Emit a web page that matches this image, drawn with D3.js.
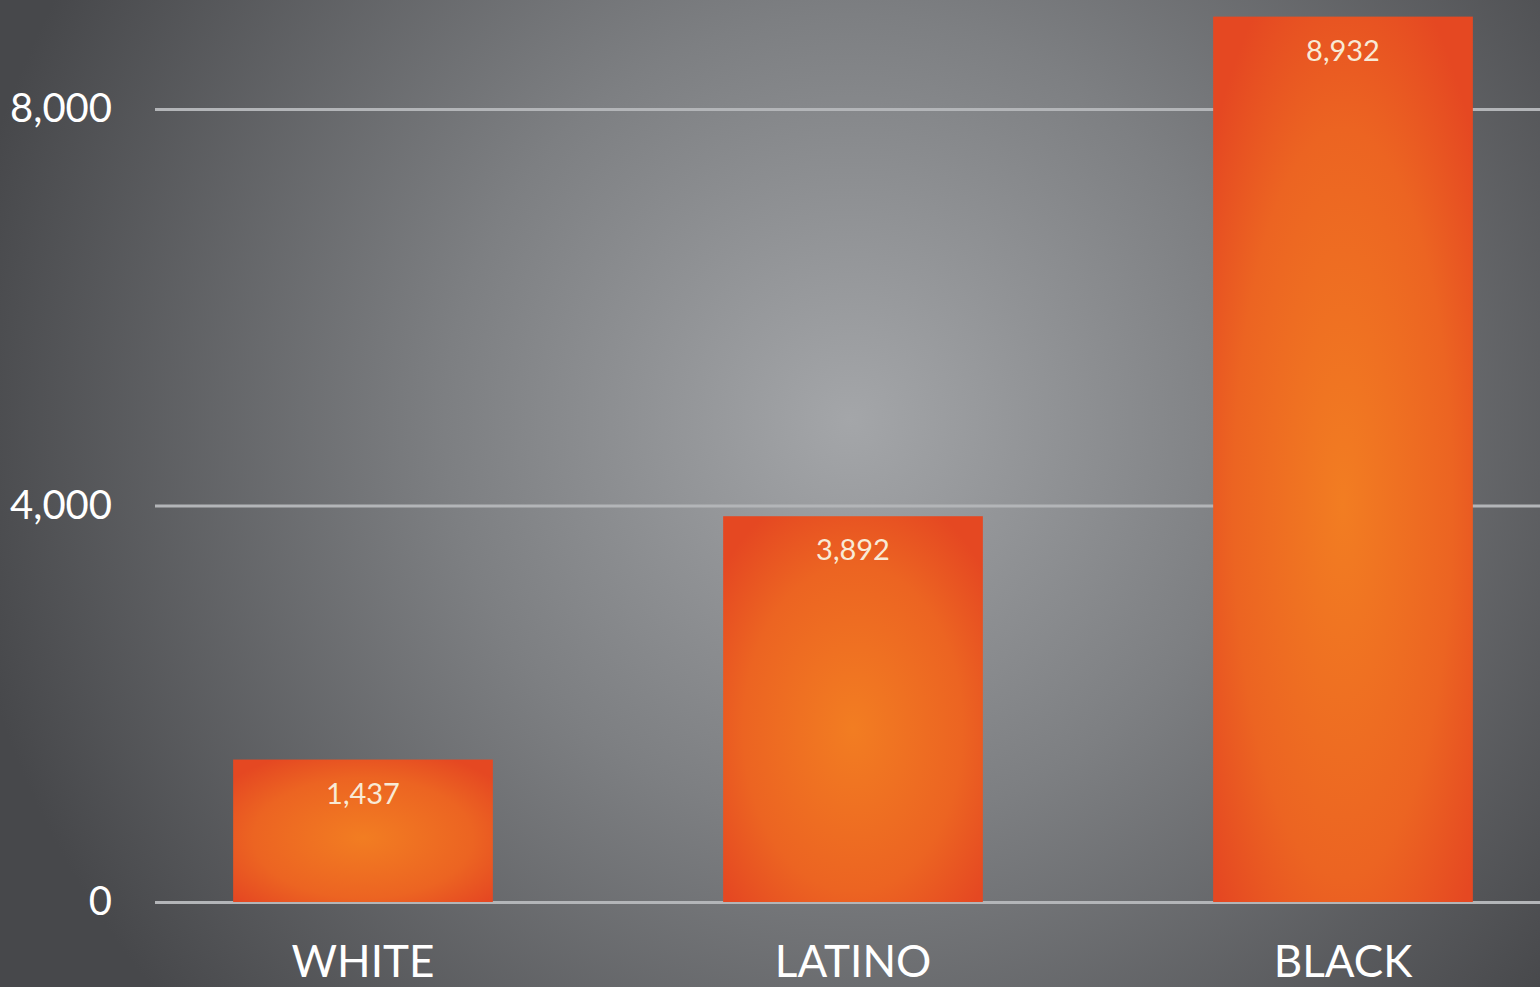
<!DOCTYPE html>
<html>
<head>
<meta charset="utf-8">
<script src="https://cdn.jsdelivr.net/npm/d3@7"></script>
<style>
  html, body { margin: 0; padding: 0; background: #55575a; overflow: hidden; }
  text { font-family: 'Lato', 'DejaVu Sans', sans-serif; }
</style>
</head>
<body>
<div id="chart"></div>
<script>
const categories = ['WHITE', 'LATINO', 'BLACK']
const values = [1437, 3892, 8932]
const tickValues = [0, 4000, 8000]

const width = 1540
const height = 987

const svg = d3
  .select('#chart')
  .append('svg')
  .attr('width', width)
  .attr('height', height)

const defs = svg.append('defs')

const bg = defs
  .append('radialGradient')
  .attr('id', 'bg')
  .attr('gradientUnits', 'userSpaceOnUse')
  .attr('cx', 850)
  .attr('cy', 420)
  .attr('r', 900)
bg.append('stop').attr('offset', '0%').attr('stop-color', '#a4a6a9')
bg.append('stop').attr('offset', '45%').attr('stop-color', '#7d7f82')
bg.append('stop').attr('offset', '100%').attr('stop-color', '#47484b')

const barGrad = defs
  .append('radialGradient')
  .attr('id', 'bar')
  .attr('cx', '50%')
  .attr('cy', '55%')
  .attr('r', '65%')
barGrad.append('stop').attr('offset', '0%').attr('stop-color', '#f27d22')
barGrad.append('stop').attr('offset', '65%').attr('stop-color', '#ec6422')
barGrad.append('stop').attr('offset', '100%').attr('stop-color', '#e54822')

svg
  .append('rect')
  .attr('width', width)
  .attr('height', height)
  .attr('fill', 'url(#bg)')

const xPositionScale = d3
  .scaleBand()
  .domain(categories)
  .range([118, 1588])
  .paddingInner(0.47)
  .paddingOuter(0.235)

const yPositionScale = d3
  .scaleLinear()
  .domain([0, 8000])
  .range([902, 109])

// gridlines + tick labels
const yAxis = d3
  .axisLeft(yPositionScale)
  .tickValues(tickValues)
  .tickSize(-(width - 155))
  .tickPadding(43)
  .tickFormat(d3.format(','))

svg
  .append('g')
  .attr('class', 'axis y-axis')
  .attr('transform', 'translate(155,0)')
  .call(yAxis)
svg.selectAll('.y-axis path').remove()
svg
  .selectAll('.y-axis line')
  .attr('stroke', '#b3b5b8')
  .attr('stroke-width', 3)
svg
  .selectAll('.y-axis text')
  .attr('fill', '#ffffff')
  .style('font-size', '40px')
  .attr('dy', '0.32em')

svg
  .selectAll('.bar')
  .data(values)
  .enter()
  .append('rect')
  .attr('class', 'bar')
  .attr('x', (d, i) => xPositionScale(categories[i]))
  .attr('width', xPositionScale.bandwidth())
  .attr('y', d => yPositionScale(d))
  .attr('height', d => yPositionScale(0) - yPositionScale(d))
  .attr('fill', 'url(#bar)')

svg
  .selectAll('.value-label')
  .data(values)
  .enter()
  .append('text')
  .attr('class', 'value-label')
  .attr('x', (d, i) => xPositionScale(categories[i]) + xPositionScale.bandwidth() / 2)
  .attr('y', d => yPositionScale(d) + 44)
  .attr('text-anchor', 'middle')
  .attr('fill', '#f8ead6')
  .style('font-size', '29px')
  .text(d => d3.format(',')(d))

const xAxis = d3.axisBottom(xPositionScale).tickSize(0).tickPadding(44)
svg
  .append('g')
  .attr('class', 'axis x-axis')
  .attr('transform', 'translate(0,' + yPositionScale(0) + ')')
  .call(xAxis)
svg.selectAll('.x-axis path').remove()
svg
  .selectAll('.x-axis text')
  .attr('fill', '#ffffff')
  .style('font-size', '44px')
  .attr('dy', '0.71em')
</script>
</body>
</html>
